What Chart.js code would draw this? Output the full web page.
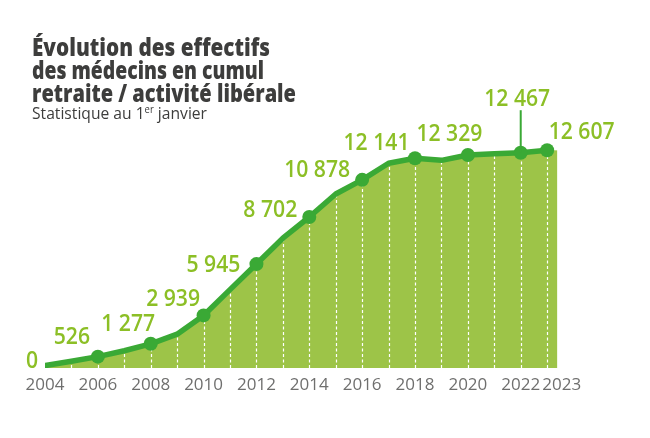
<!DOCTYPE html>
<html lang="fr">
<head>
<meta charset="utf-8">
<script src="https://cdn.jsdelivr.net/npm/chart.js@4.4.1/dist/chart.umd.min.js"></script>
<style>
html,body{margin:0;padding:0;background:#fff;width:650px;height:438px;overflow:hidden;}
#wrap{position:relative;width:650px;height:438px;}
#c{position:absolute;left:0;top:0;}
.t{position:absolute;left:32px;font-family:"Open Sans",sans-serif;font-weight:800;font-size:24px;line-height:1;color:#3d3d3c;white-space:nowrap;transform-origin:0 0;}
.s{position:absolute;left:32px;top:104.5px;font-family:"Open Sans",sans-serif;font-weight:400;font-size:16.5px;line-height:1;color:#3d3d3c;white-space:nowrap;transform-origin:0 0;}
.s sup{font-size:10px;vertical-align:0;position:relative;top:-6px;}
</style>
</head>
<body>
<div id="wrap">
  <canvas id="c" width="650" height="438"></canvas>
  <div class="t" style="top:35px" data-w="238">Évolution des effectifs</div>
  <div class="t" style="top:58px" data-w="232">des médecins en cumul</div>
  <div class="t" style="top:80.5px" data-w="264">retraite / activité libérale</div>
  <div class="s" data-w="175">Statistique au 1<sup>er</sup> janvier</div>
</div>
<script>
// ---- data ----
const years = [2004,2005,2006,2007,2008,2009,2010,2011,2012,2013,2014,2015,2016,2017,2018,2019,2020,2021,2022,2023];
const effectifs = [0,260,526,870,1277,1840,2939,4450,5945,7460,8702,10050,10878,11850,12141,12020,12329,12400,12467,12607];
const markedYears = [2006,2008,2010,2012,2014,2016,2018,2020,2022,2023];
const labeledYears = [2004,2006,2008,2010,2012,2014,2016,2018,2020,2022,2023];
const tickYears = [2004,2006,2008,2010,2012,2014,2016,2018,2020,2022,2023];

// ---- styles ----
const FILL = '#9dc448';
const LINE = '#3aa935';
const LABEL = '#8cbf26';
const TICK = '#6f6f6e';

// label placement relative to its point: [dx to text centre, dy to baseline]
const labelOffsets = {
  2004:[-13,2], 2006:[-26,-13], 2008:[-22.5,-12.5], 2010:[-30.5,-9.5],
  2012:[-43,7.5], 2014:[-39,0], 2016:[-45,-3], 2018:[-38.5,-8.5],
  2020:[-18.5,-14], 2022:[-3.5,-46.5], 2023:[34.5,-11]
};

document.querySelectorAll('[data-w]').forEach(el => {
  const w = el.getBoundingClientRect().width;
  el.style.transform = 'scaleX(' + (parseFloat(el.dataset.w) / w) + ')';
});

const fmt = v => String(v).replace(/\B(?=(\d{3})+(?!\d))/g, ' ');

const pts = years.map((y, i) => ({x: y, y: effectifs[i]}));

const decor = {
  id: 'decor',
  afterDatasetDraw(chart, args) {
    if (args.index !== 0) return;
    const {ctx, chartArea} = chart;
    const xs = chart.scales.x, ys = chart.scales.y;
    ctx.save();
    const last = years.length - 1;
    const xl = xs.getPixelForValue(years[last]);
    const yl = ys.getPixelForValue(effectifs[last]);
    ctx.fillStyle = FILL;
    ctx.fillRect(xl - 1, yl, 11, chartArea.bottom - yl);
    ctx.strokeStyle = '#ffffff';
    ctx.lineWidth = 1.2;
    ctx.setLineDash([3, 2.5]);
    for (let i = 1; i < years.length; i++) {
      const x = Math.round(xs.getPixelForValue(years[i])) + 0.5;
      const y = ys.getPixelForValue(effectifs[i]);
      ctx.beginPath();
      ctx.moveTo(x, chartArea.bottom);
      ctx.lineTo(x, y);
      ctx.stroke();
    }
    ctx.restore();
  },
  afterDatasetsDraw(chart) {
    const {ctx} = chart;
    const xs = chart.scales.x, ys = chart.scales.y;
    ctx.save();
    ctx.font = '600 23.5px "Open Sans", sans-serif';
    ctx.fillStyle = LABEL;
    ctx.textAlign = 'center';
    ctx.textBaseline = 'alphabetic';
    labeledYears.forEach(yr => {
      const i = years.indexOf(yr);
      const px = xs.getPixelForValue(yr);
      const py = ys.getPixelForValue(effectifs[i]);
      const [dx, dy] = labelOffsets[yr];
      if (yr === 2022) {
        ctx.save();
        ctx.strokeStyle = LINE;
        ctx.lineWidth = 2;
        ctx.beginPath();
        ctx.moveTo(px, py);
        ctx.lineTo(px, py + dy + 4);
        ctx.stroke();
        ctx.restore();
      }
      ctx.save();
      ctx.translate(px + dx, py + dy);
      ctx.scale(0.9, 1);
      ctx.fillText(fmt(effectifs[i]), 0, 0);
      ctx.restore();
    });
    ctx.restore();
  }
};

new Chart(document.getElementById('c'), {
  type: 'line',
  data: {
    datasets: [
      {
        data: pts,
        fill: 'start',
        backgroundColor: FILL,
        borderWidth: 0,
        pointRadius: 0,
        order: 2
      },
      {
        data: pts,
        fill: false,
        borderColor: LINE,
        borderWidth: 5.5,
        borderCapStyle: 'round',
        borderJoinStyle: 'round',
        tension: 0,
        pointRadius: years.map(y => markedYears.includes(y) ? 7 : 0),
        pointBackgroundColor: LINE,
        pointBorderWidth: 0,
        order: 1
      }
    ]
  },
  options: {
    responsive: false,
    animation: false,
    devicePixelRatio: 1,
    events: [],
    layout: {padding: {left: 45, right: 87, top: 0, bottom: 40}},
    plugins: {legend: {display: false}, tooltip: {enabled: false}, title: {display: false}},
    scales: {
      x: {
        type: 'linear',
        min: 2004,
        max: 2023.6,
        grid: {display: false, drawTicks: false},
        border: {display: false},
        afterBuildTicks: s => { s.ticks = tickYears.map(y => ({value: y === 2023 ? y + 0.55 : y})); },
        afterFit: s => { s.height = 30; s.paddingLeft = 0; s.paddingRight = 0; },
        ticks: {
          autoSkip: false,
          maxRotation: 0,
          minRotation: 0,
          padding: 7,
          color: TICK,
          font: {family: '"Open Sans", sans-serif', size: 17},
          callback: v => String(Math.floor(v))
        }
      },
      y: {
        type: 'linear',
        display: false,
        min: -140,
        max: 21000
      }
    }
  },
  plugins: [decor]
});
</script>
</body>
</html>
